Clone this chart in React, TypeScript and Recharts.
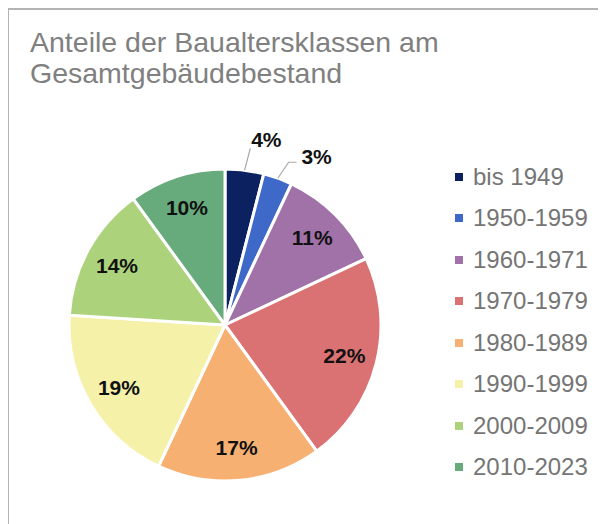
import React from "react";
import { Cell, Legend, Pie, PieChart } from "recharts";

const classes = [
    "bis 1949",
    "1950-1959",
    "1960-1971",
    "1970-1979",
    "1980-1989",
    "1990-1999",
    "2000-2009",
    "2010-2023",
];
const shares = [4, 3, 11, 22, 17, 19, 14, 10];
const colors = [
    "#0c215f",
    "#3f69c9",
    "#a072a8",
    "#da7172",
    "#f6b172",
    "#f5f1a9",
    "#acd37c",
    "#67ab7c",
];

const chartData = classes.map((name, i) => ({
    name,
    value: shares[i],
    color: colors[i],
}));

const RAD = Math.PI / 180;
const FONT = "'Liberation Sans', Arimo, Helvetica, Arial, sans-serif";

const renderLabel = (props: any) => {
    const { cx, cy, midAngle, outerRadius, index, value } = props;
    const cos = Math.cos(-midAngle * RAD);
    const sin = Math.sin(-midAngle * RAD);
    const text = `${value}%`;
    const textStyle = {
        fontFamily: FONT,
        fontSize: 21,
        fontWeight: 700,
        fill: "#111",
    };

    // small slices get an outside label with a leader line
    if (index === 0 || index === 1) {
        const len = index === 0 ? 22 : 17;
        const sx = cx + outerRadius * cos;
        const sy = cy + outerRadius * sin;
        const ex = cx + (outerRadius + len) * cos + (index === 0 ? 3 : 5);
        const ey = cy + (outerRadius + len) * sin;
        const hx = index === 0 ? ex : ex + 8;
        const tx = index === 0 ? ex + 16 : hx + 20;
        const ty = index === 0 ? ey - 9 : ey - 6;
        return (
            <g key={`lbl-${index}`}>
                <polyline
                    points={`${sx},${sy} ${ex},${ey} ${hx},${ey}`}
                    fill="none"
                    stroke="#a8a8a8"
                    strokeWidth={1.2}
                />
                <text
                    x={tx}
                    y={ty}
                    textAnchor="middle"
                    dominantBaseline="central"
                    style={textStyle}
                >
                    {text}
                </text>
            </g>
        );
    }

    const r = outerRadius * 0.79;
    return (
        <text
            key={`lbl-${index}`}
            x={cx + r * cos}
            y={cy + r * sin}
            textAnchor="middle"
            dominantBaseline="central"
            style={textStyle}
        >
            {text}
        </text>
    );
};

// legend keeps the original class order
const renderLegend = () => {
    return (
        <div style={{ fontFamily: FONT }}>
            {chartData.map((entry, idx) => (
                <div
                    key={idx}
                    style={{
                        display: "flex",
                        alignItems: "center",
                        height: 41.5,
                    }}
                >
                    <div
                        style={{
                            width: 8,
                            height: 8,
                            backgroundColor: entry.color,
                            marginRight: 10,
                        }}
                    ></div>
                    <span style={{ fontSize: 24, color: "#757575" }}>
                        {entry.name}
                    </span>
                </div>
            ))}
        </div>
    );
};

const App: React.FC = () => {
    return (
        <div style={{ position: "relative", width: 598, height: 516 }}>
            <div
                style={{
                    position: "absolute",
                    left: -1,
                    top: 0,
                    right: 0,
                    bottom: 0,
                    borderTop: "2px solid #b3b3b3",
                    borderLeft: "2px solid #b3b3b3",
                }}
            ></div>
            <div
                style={{
                    position: "absolute",
                    left: 22,
                    top: 19,
                    fontFamily: FONT,
                    fontSize: 28.5,
                    lineHeight: "31px",
                    color: "#808080",
                }}
            >
                Anteile der Baualtersklassen am
                <br />
                Gesamtgebäudebestand
            </div>
            <div style={{ position: "absolute", left: 0, top: 0 }}>
                <PieChart
                    width={598}
                    height={516}
                    margin={{ top: 0, right: 0, bottom: 0, left: 0 }}
                >
                    <Pie
                        data={chartData}
                        dataKey="value"
                        nameKey="name"
                        cx={217}
                        cy={317}
                        outerRadius={156}
                        startAngle={90}
                        endAngle={-270}
                        stroke="#ffffff"
                        strokeWidth={3}
                        label={renderLabel}
                        labelLine={false}
                        isAnimationActive={false}
                    >
                        {chartData.map((entry, index) => (
                            <Cell key={`cell-${index}`} fill={entry.color} />
                        ))}
                    </Pie>
                    <Legend
                        layout="vertical"
                        content={renderLegend}
                        wrapperStyle={{ left: 447, top: 148, width: 150 }}
                    />
                </PieChart>
            </div>
        </div>
    );
};

export default App;
